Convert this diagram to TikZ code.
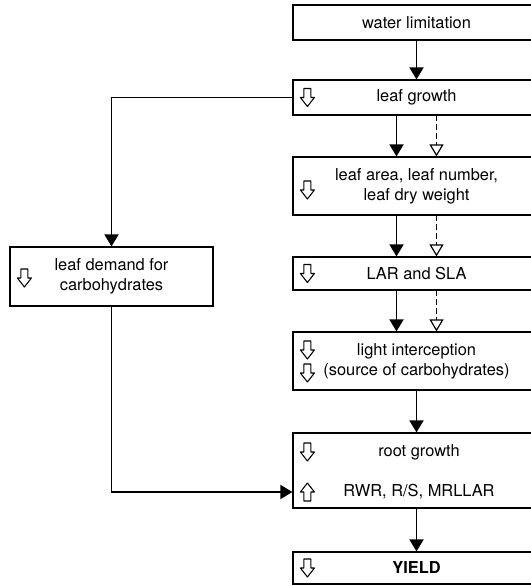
\documentclass[tikz,border=0pt]{standalone}
\usepackage{fontspec}
\setmainfont{TeX Gyre Heros}
\usetikzlibrary{arrows.meta,calc}

\tikzset{
  box/.style={draw, line width=1pt, minimum width=7.41cm, inner sep=2pt, align=center, font=\fontsize{14}{17}\selectfont},
  lbl/.style={inner sep=0pt, font=\fontsize{14}{17}\selectfont},
  flow/.style={draw, line width=1.6pt, -{Triangle[length=3.6mm,width=4.2mm]}},
  flowopen/.style={draw, line width=1pt, dash pattern=on 5pt off 2.5pt, -{Triangle[open,length=3.6mm,width=4.2mm,line width=1pt]}},
  downarr/.pic={\path[draw, fill=white, line width=0.9pt, line join=round](-3.5,-9)--(3.5,-9)--(3.5,0)--(7,0)--(0,9)--(-7,0)--(-3.5,0)--cycle;},
  uparr/.pic={\path[draw, fill=white, line width=0.9pt, line join=round](-3.5,9)--(3.5,9)--(3.5,0)--(7,0)--(0,-9)--(-7,0)--(-3.5,0)--cycle;}
}

\begin{document}
\begin{tikzpicture}[x=0.03cm, y=-0.03cm]
    \clip(0,0)rectangle(531,586);
    % right column
    \node[box, minimum height=1.05cm](wl)at(416.5,22.5){water limitation};
    \node[box, minimum height=1.05cm](lg)at(416.5,97.5){leaf growth};
    \node[box, minimum height=1.74cm](la)at(416.5,186){leaf area, leaf number,\\leaf dry weight};
    \node[box, minimum height=0.99cm](lar)at(416.5,273.5){LAR and SLA};
    \node[box, minimum height=1.74cm](li)at(416.5,361){light interception\\(source of carbohydrates)};
    \node[box, minimum height=2.25cm](rg)at(416.5,470.5){};
    \node[lbl](rgtop)at(419,452){root growth};
    \node[lbl](rgbot)at(419,492){RWR, R/S, MRLLAR};
    \node[box, minimum height=0.96cm, font=\fontsize{14}{17}\selectfont\bfseries](yd)at(416.5,568){YIELD};
    % left box
    \node[box, minimum width=6.09cm, minimum height=1.77cm](ld)at(111.5,276.5){leaf demand for\\carbohydrates};
    % open arrows
    \path ($(lg.west)+(15,0)$) pic{downarr};
    \path ($(la.west)+(15,4)$) pic{downarr};
    \path ($(lar.west)+(15,0)$) pic{downarr};
    \path ($(li.west)+(15,-11)$) pic{downarr};
    \path ($(li.west)+(15,12)$) pic{downarr};
    \path (rg.west|-rgtop) ++(15,0) pic{downarr};
    \path (rg.west|-rgbot) ++(15,0) pic{uparr};
    \path ($(yd.west)+(15,0)$) pic{downarr};
    \path ($(ld.west)+(15,1.5)$) pic{downarr};
    % main flow
    \path[flow](wl)to(lg);
    \path[flow]($(lg.south)+(-20,0)$)to($(la.north)+(-20,0)$);
    \path[flowopen]($(lg.south)+(20,0)$)to($(la.north)+(20,0)$);
    \path[flow]($(la.south)+(-20,0)$)to($(lar.north)+(-20,0)$);
    \path[flowopen]($(la.south)+(20,0)$)to($(lar.north)+(20,0)$);
    \path[flow]($(lar.south)+(-20,0)$)to($(li.north)+(-20,0)$);
    \path[flowopen]($(lar.south)+(20,0)$)to($(li.north)+(20,0)$);
    \path[flow](li)to(rg);
    \path[flow](rg)to(yd);
    % carbohydrate demand loop
    \path[flow](lg.west)-|(ld.north);
    \path[flow](ld.south)|-(rg.west|-rgbot);
\end{tikzpicture}
\end{document}
